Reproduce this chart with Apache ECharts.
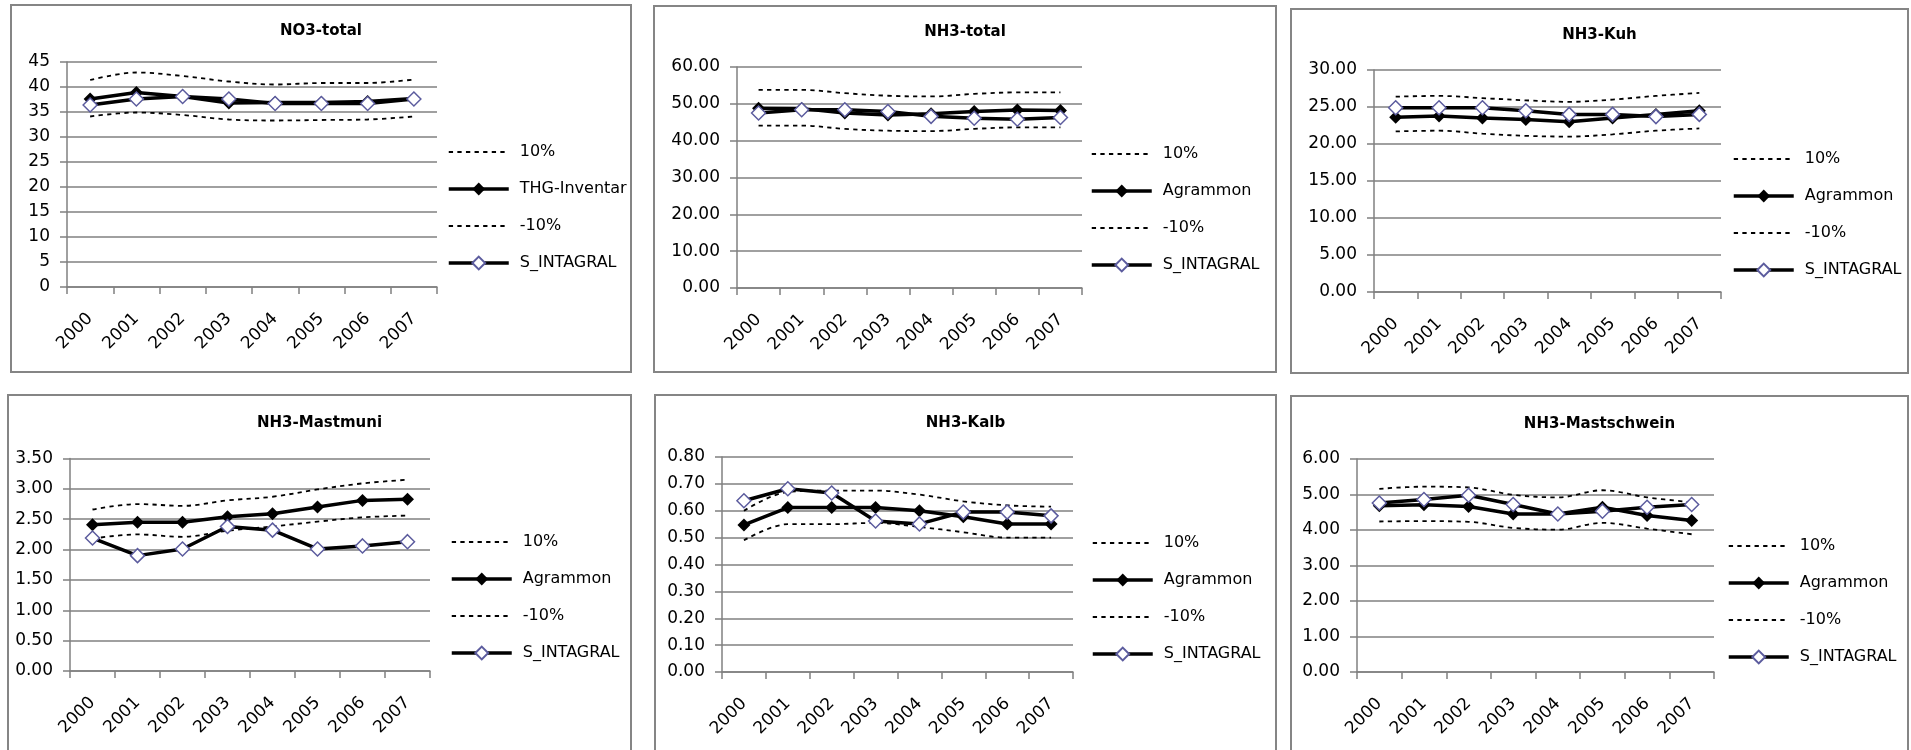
<!DOCTYPE html>
<html>
<head>
<meta charset="utf-8">
<script src="https://cdn.jsdelivr.net/npm/echarts@6/dist/echarts.min.js"></script>
<style>
html, body { margin:0; padding:0; background:#fff; width:1911px; height:750px; overflow:hidden; }
.panel { position:absolute; }
.frame { position:absolute; border:2px solid #858585; box-sizing:border-box; pointer-events:none; }
</style>
</head>
<body>
<script>
// ---------------- data ----------------
const years = ['2000', '2001', '2002', '2003', '2004', '2005', '2006', '2007'];

// NO3-total
const no3Plus10  = [41.4, 42.9, 42.2, 41.1, 40.5, 40.8, 40.8, 41.5];
const no3Thg     = [37.6, 38.9, 38.1, 36.8, 36.9, 36.9, 37.1, 37.7];
const no3Minus10 = [34.1, 34.9, 34.4, 33.5, 33.3, 33.4, 33.5, 34.1];
const no3Sint    = [36.4, 37.6, 38.1, 37.6, 36.7, 36.7, 36.7, 37.6];

// NH3-total
const totPlus10  = [53.8, 53.8, 52.9, 52.2, 52.0, 52.7, 53.1, 53.1];
const totAgr     = [48.8, 48.7, 47.5, 47.0, 47.3, 47.9, 48.3, 48.2];
const totMinus10 = [44.1, 44.1, 43.2, 42.7, 42.6, 43.2, 43.6, 43.6];
const totSint    = [47.5, 48.4, 48.4, 47.9, 46.6, 46.1, 45.8, 46.3];

// NH3-Kuh
const kuhPlus10  = [26.4, 26.5, 26.2, 25.9, 25.7, 26.0, 26.5, 26.9];
const kuhAgr     = [23.6, 23.8, 23.5, 23.3, 23.0, 23.5, 24.0, 24.5];
const kuhMinus10 = [21.7, 21.8, 21.4, 21.1, 21.0, 21.3, 21.8, 22.1];
const kuhSint    = [24.9, 24.9, 24.9, 24.5, 24.0, 24.0, 23.7, 24.0];

// NH3-Mastmuni
const munPlus10  = [2.66, 2.75, 2.72, 2.81, 2.87, 2.99, 3.09, 3.15];
const munAgr     = [2.41, 2.45, 2.45, 2.54, 2.59, 2.70, 2.81, 2.83];
const munMinus10 = [2.18, 2.25, 2.21, 2.31, 2.38, 2.46, 2.53, 2.56];
const munSint    = [2.19, 1.90, 2.01, 2.38, 2.32, 2.01, 2.06, 2.13];

// NH3-Kalb
const kalbPlus10  = [0.600, 0.670, 0.675, 0.675, 0.660, 0.635, 0.620, 0.615];
const kalbAgr     = [0.547, 0.612, 0.612, 0.612, 0.600, 0.578, 0.551, 0.551];
const kalbMinus10 = [0.490, 0.550, 0.550, 0.555, 0.540, 0.520, 0.500, 0.500];
const kalbSint    = [0.637, 0.682, 0.666, 0.562, 0.551, 0.595, 0.595, 0.581];

// NH3-Mastschwein
const schPlus10  = [5.16, 5.22, 5.20, 4.99, 4.92, 5.12, 4.92, 4.78];
const schAgr     = [4.68, 4.71, 4.66, 4.45, 4.45, 4.64, 4.41, 4.27];
const schMinus10 = [4.24, 4.25, 4.23, 4.06, 4.01, 4.20, 4.04, 3.88];
const schSint    = [4.76, 4.86, 4.98, 4.72, 4.45, 4.53, 4.64, 4.72];

// axis tick settings: [min, max, interval, decimals]
const no3Axis  = [0, 45, 5, 0];
const totAxis  = [0, 60, 10, 2];
const kuhAxis  = [0, 30, 5, 2];
const munAxis  = [0, 3.5, 0.5, 2];
const kalbAxis = [0, 0.8, 0.1, 2];
const schAxis  = [0, 6, 1, 2];

const titles = ['NO3-total', 'NH3-total', 'NH3-Kuh', 'NH3-Mastmuni', 'NH3-Kalb', 'NH3-Mastschwein'];
const mainNames = ['THG-Inventar', 'Agrammon', 'Agrammon', 'Agrammon', 'Agrammon', 'Agrammon'];

// ---------------- layout ----------------
const panels = [
  { box:[10, 4, 622, 369],    grid:[57, 58, 370, 225],     leg:[432, 135], tTop:15, d:[no3Plus10, no3Thg, no3Minus10, no3Sint], ax:no3Axis },
  { box:[653, 5, 624, 368],   grid:[84, 62, 345, 221],     leg:[432, 136], tTop:15, d:[totPlus10, totAgr, totMinus10, totSint], ax:totAxis },
  { box:[1290, 8, 619, 366],  grid:[84, 62, 347, 222],     leg:[437, 138], tTop:15, d:[kuhPlus10, kuhAgr, kuhMinus10, kuhSint], ax:kuhAxis },
  { box:[7, 394, 625, 380],   grid:[63, 64.5, 360, 212.5], leg:[438, 135], tTop:17, d:[munPlus10, munAgr, munMinus10, munSint], ax:munAxis },
  { box:[654, 394, 623, 380], grid:[68, 63, 351, 215],     leg:[432, 136], tTop:17, d:[kalbPlus10, kalbAgr, kalbMinus10, kalbSint], ax:kalbAxis },
  { box:[1290, 395, 619, 380],grid:[67, 64, 357, 213],     leg:[432, 138], tTop:17, d:[schPlus10, schAgr, schMinus10, schSint], ax:schAxis }
];

const FONT = 'DejaVu Sans';
const FS = 17;
const LEG_FS = 16;
const GRID_C = '#808080';
const DASH = [4.3, 4.3];

function dashed(name, data) {
  return {
    name, type:'line', data, symbol:'none', smooth:0.35, silent:true,
    itemStyle:{ color:'#000' },
    lineStyle:{ color:'#000', width:1.8, type:DASH },
    z:2
  };
}

panels.forEach((p, i) => {
  const div = document.createElement('div');
  div.className = 'panel';
  div.style.left = p.box[0] + 'px'; div.style.top = p.box[1] + 'px';
  div.style.width = p.box[2] + 'px'; div.style.height = p.box[3] + 'px';
  document.body.appendChild(div);
  const frame = document.createElement('div');
  frame.className = 'frame';
  frame.style.left = p.box[0] + 'px'; frame.style.top = p.box[1] + 'px';
  frame.style.width = p.box[2] + 'px'; frame.style.height = p.box[3] + 'px';
  document.body.appendChild(frame);

  const chart = echarts.init(div, null, { renderer:'canvas', width:p.box[2], height:p.box[3] });
  const dec = p.ax[3];
  const option = {
    animation:false,
    backgroundColor:'#fff',
    title:{ text:titles[i], left:'center', top:p.tTop,
      textStyle:{ fontFamily:FONT, fontSize:15, fontWeight:'bold', color:'#000' } },
    grid:{ left:p.grid[0], top:p.grid[1], width:p.grid[2], height:p.grid[3], containLabel:false },
    xAxis:{
      type:'category', data:years, boundaryGap:true,
      axisLine:{ show:true, lineStyle:{ color:GRID_C, width:1.5 } },
      axisTick:{ show:true, length:7, lineStyle:{ color:GRID_C, width:1.5 } },
      axisLabel:{ rotate:45, margin:29, interval:0, fontFamily:FONT, fontSize:FS, color:'#000' },
      splitLine:{ show:false }
    },
    yAxis:{
      type:'value', min:p.ax[0], max:p.ax[1], interval:p.ax[2],
      axisLine:{ show:true, lineStyle:{ color:GRID_C, width:1.5 } },
      axisTick:{ show:true, length:7, lineStyle:{ color:GRID_C, width:1.5 } },
      axisLabel:{ margin:17, fontFamily:FONT, fontSize:FS, color:'#000',
        formatter:v => v.toFixed(dec) },
      splitLine:{ show:true, lineStyle:{ color:GRID_C, width:1.5 } }
    },
    legend:{
      orient:'vertical', left:p.leg[0], top:p.leg[1],
      itemWidth:60, itemHeight:16, itemGap:21,
      textStyle:{ fontFamily:FONT, fontSize:LEG_FS, color:'#000', lineHeight:16, padding:[0,0,0,6] },
      data:[
        { name:'10%', itemStyle:{ opacity:0 }, lineStyle:{ width:1.8, type:DASH, color:'#000' } },
        { name:mainNames[i], lineStyle:{ width:3.5, color:'#000' } },
        { name:'-10%', itemStyle:{ opacity:0 }, lineStyle:{ width:1.8, type:DASH, color:'#000' } },
        { name:'S_INTAGRAL', lineStyle:{ width:3.5, color:'#000' } }
      ]
    },
    series:[
      dashed('10%', p.d[0]),
      { name:mainNames[i], type:'line', data:p.d[1], symbol:'diamond', symbolSize:13, silent:true,
        itemStyle:{ color:'#000' }, lineStyle:{ color:'#000', width:3.5 }, z:3 },
      dashed('-10%', p.d[2]),
      { name:'S_INTAGRAL', type:'line', data:p.d[3], symbol:'diamond', symbolSize:14, silent:true,
        itemStyle:{ color:'#fff', borderColor:'#5c5c9e', borderWidth:1.5 },
        lineStyle:{ color:'#000', width:3.5 }, z:4 }
    ]
  };
  chart.setOption(option);
});
</script>
</body>
</html>
